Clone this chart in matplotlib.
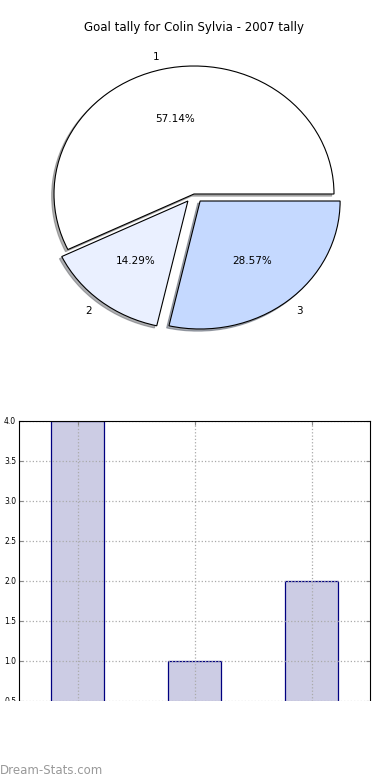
import numpy as np
import matplotlib
matplotlib.use('Agg')
import matplotlib.pyplot as plt
from matplotlib.patches import Rectangle

# data
labels = ['1', '2', '3']
goals = [4, 1, 2]
explode = [0, 0.07, 0.07]
pie_colors = ['#FFFFFF', '#EAF0FF', '#C5D9FF']
y_ticks = [0.5, 1.0, 1.5, 2.0, 2.5, 3.0, 3.5, 4.0]

W, H = 390, 780
fig = plt.figure(figsize=(W / 100, H / 100), dpi=100)

# pie (elliptical, old style)
ax1 = fig.add_axes([19 / W, 1 - 354 / H, 350 / W, 320 / H])
wedges, texts, autotexts = ax1.pie(goals, labels=labels, explode=explode, colors=pie_colors,
                                   autopct='%1.2f%%',
                                   shadow={'ox': -0.012, 'oy': -0.012, 'shade': 0.6},
                                   wedgeprops={'edgecolor': 'black', 'linewidth': 0.8},
                                   textprops={'fontsize': 7.5})
ax1.set_aspect('auto')
ax1.set_xlim(-1.25, 1.25)
ax1.set_ylim(-1.25, 1.25)
ax1.set_title('Goal tally for Colin Sylvia - 2007 tally', fontsize=8.5, pad=-3)

# bar chart (bottom part cut off like the original)
ax2 = fig.add_axes([19 / W, 1 - 741 / H, 351 / W, 320 / H])
x = np.arange(len(goals))
ax2.bar(x, goals, width=0.45, color='#CCCCE4', edgecolor='#000080', linewidth=0.9, zorder=1)
ax2.set_xlim(-0.5, 2.5)
ax2.set_ylim(0, 4)
ax2.set_xticks(x)
ax2.set_yticks(y_ticks)
ax2.set_yticklabels(['%.1f' % v for v in y_ticks])
ax2.tick_params(direction='in', length=3, labelsize=5.5, pad=2, right=True, top=True, color='#888888')
ax2.tick_params(axis='x', labelbottom=False)
ax2.set_axisbelow('line')
ax2.grid(True, linestyle=':', color='#AAAAAA', linewidth=0.9)

# white band hiding the lower part of the bar chart
fig.add_artist(Rectangle((0, 0), 1, (H - 701) / H, transform=fig.transFigure,
                         facecolor='white', edgecolor='none', zorder=5))
fig.text(0, 1 - 770 / H, 'Dream-Stats.com', fontsize=8.5, color='#999999',
         va='center', ha='left', zorder=6)

fig.savefig('out.png', dpi=100)
